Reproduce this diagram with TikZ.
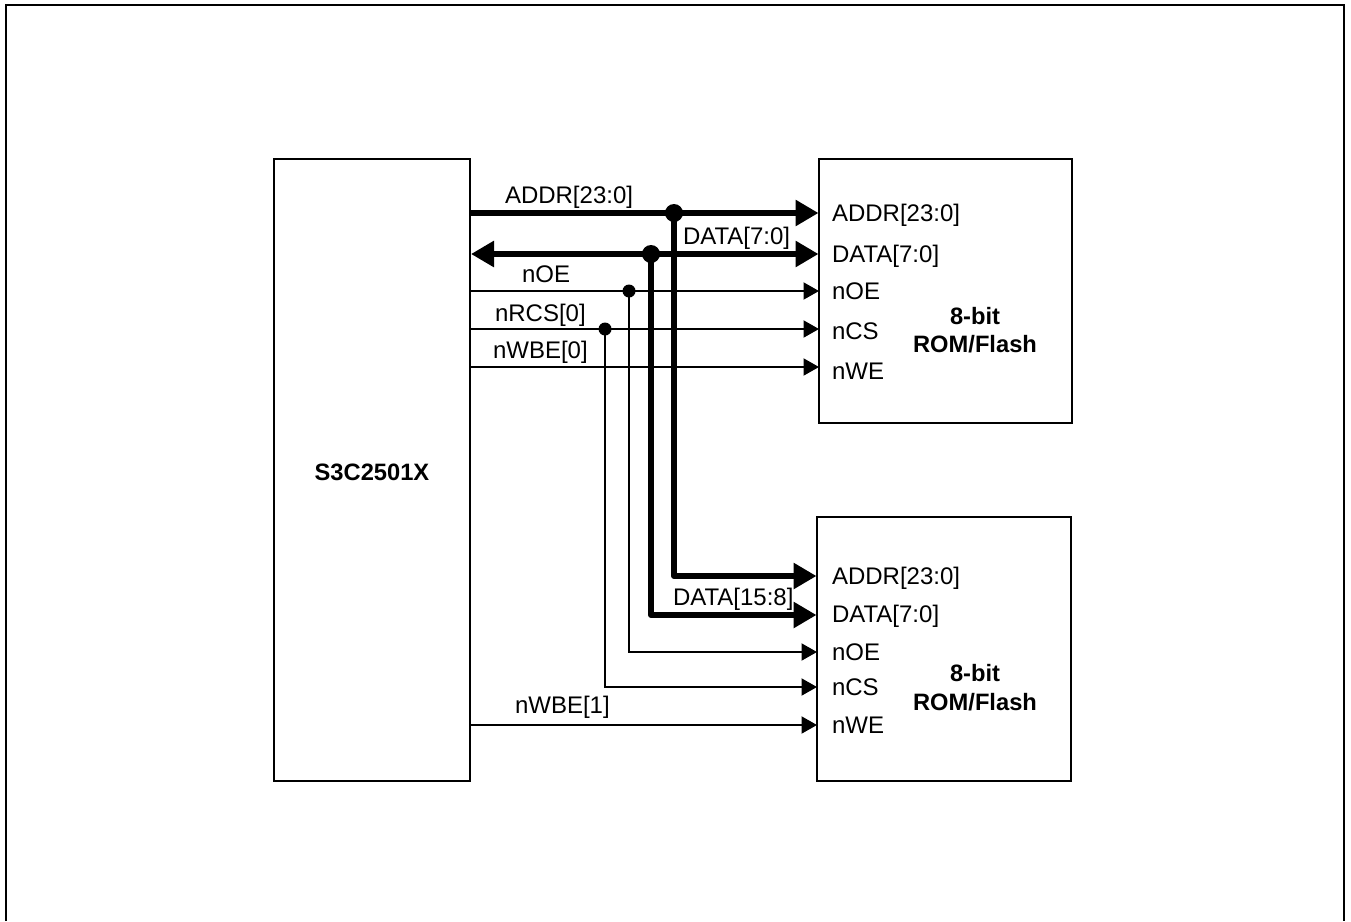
\documentclass[tikz,border=0pt]{standalone}
\usepackage{fontspec}
\setmainfont{Liberation Sans}
\usetikzlibrary{arrows.meta}
\tikzset{
  box/.style={draw=black,line width=1.6pt,fill=none},
  lbl/.style={inner sep=0pt,outer sep=0pt,anchor=base west,font=\fontsize{24}{28}\selectfont},
  bold/.style={inner sep=0pt,outer sep=0pt,anchor=base,font=\fontsize{23.7}{28}\selectfont\bfseries},
  thin bus/.style={line width=2pt,-{Triangle[length=15.5pt,width=17pt]},shorten >=-0.5pt},
  thick bus/.style={line width=6pt,-{Triangle[length=23pt,width=25pt]}},
  both bus/.style={line width=6pt,{Triangle[length=23pt,width=25pt]}-{Triangle[length=23pt,width=25pt]}},
  bigdot/.style={circle,fill=black,draw=none,minimum size=18pt,inner sep=0pt},
  smalldot/.style={circle,fill=black,draw=none,minimum size=13pt,inner sep=0pt},
}
\begin{document}
\begin{tikzpicture}[x=1pt,y=-1pt]
\useasboundingbox (0,0) rectangle (1351,921);
% outer frame, open at the bottom edge
\coordinate (fa) at (6,921);
\coordinate (fb) at (6,5);
\coordinate (fc) at (1344,5);
\coordinate (fd) at (1344,921);
\draw[line width=2pt] (fa) -- (fb) -- (fc) -- (fd);
% boxes
\node[box,minimum width=196pt,minimum height=622pt,inner sep=0pt,outer sep=0pt,anchor=north west] (soc) at (274,159) {};
\node[box,minimum width=253pt,minimum height=264pt,inner sep=0pt,outer sep=0pt,anchor=north west] (romA) at (819,159) {};
\node[box,minimum width=254pt,minimum height=264pt,inner sep=0pt,outer sep=0pt,anchor=north west] (romB) at (817,517) {};
% box titles
\node[bold] (socT) at (372,480) {S3C2501X};
\node[bold] (aT1) at (975,324) {8-bit};
\node[bold] (aT2) at (975,352) {ROM/Flash};
\node[bold] (bT1) at (975,681) {8-bit};
\node[bold] (bT2) at (975,710) {ROM/Flash};
% signal labels
\node[lbl] (l1) at (505,203) {ADDR[23:0]};
\node[lbl] (l2) at (683,244) {DATA[7:0]};
\node[lbl] (l3) at (522,282) {nOE};
\node[lbl] (l4) at (495,321) {nRCS[0]};
\node[lbl] (l5) at (493,358) {nWBE[0]};
\node[lbl] (l6) at (673,605) {DATA[15:8]};
\node[lbl] (l7) at (515,713) {nWBE[1]};
% pin labels
\node[lbl] (p1) at (832,221) {ADDR[23:0]};
\node[lbl] (p2) at (832,262) {DATA[7:0]};
\node[lbl] (p3) at (832,299) {nOE};
\node[lbl] (p4) at (832,339) {nCS};
\node[lbl] (p5) at (832,379) {nWE};
\node[lbl] (q1) at (832,584) {ADDR[23:0]};
\node[lbl] (q2) at (832,622) {DATA[7:0]};
\node[lbl] (q3) at (832,660) {nOE};
\node[lbl] (q4) at (832,695) {nCS};
\node[lbl] (q5) at (832,733) {nWE};
% ports
\foreach \n/\y in {sa/213,sd/254,so/291,sr/329,sw/367,sx/725}
  \coordinate (\n) at (471,\y);
\foreach \n/\y in {aa/213,ad/254,ao/291,ar/329,aw/367}
  \coordinate (\n) at (818.5,\y);
\foreach \n/\y in {ba/576,bd/615,bo/652,br/687,bw/725}
  \coordinate (\n) at (816.5,\y);
% junction dots
\node[bigdot] (ja) at (674,213) {};
\node[bigdot] (jd) at (651,254) {};
\node[smalldot] (jo) at (629,291) {};
\node[smalldot] (jr) at (605,329) {};
% corners
\coordinate (ca) at (674,576);
\coordinate (cd) at (651,615);
\coordinate (co) at (629,652);
\coordinate (cr) at (605,687);
% connectors
\draw[thick bus] (sa) -- (aa);
\draw[both bus] (sd) -- (ad);
\draw[thin bus] (so) -- (ao);
\draw[thin bus] (sr) -- (ar);
\draw[thin bus] (sw) -- (aw);
\draw[thin bus] (sx) -- (bw);
\draw[thick bus,line join=round] (ja.center) -- (ca) -- (ba);
\draw[thick bus,line join=round] (jd.center) -- (cd) -- (bd);
\draw[thin bus] (jo.center) -- (co) -- (bo);
\draw[thin bus] (jr.center) -- (cr) -- (br);
\end{tikzpicture}
\end{document}
